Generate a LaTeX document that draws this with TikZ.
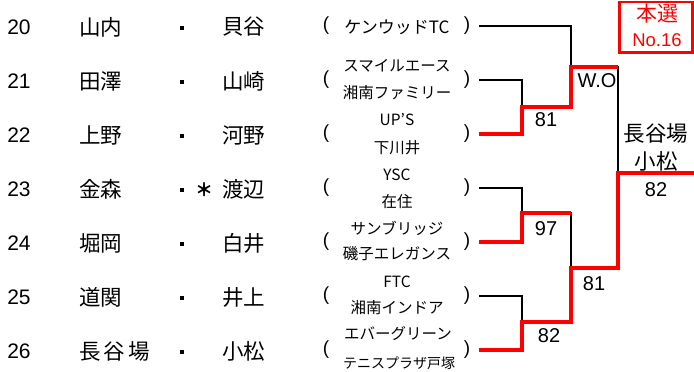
\documentclass[tikz,border=0pt]{standalone}
\usepackage{fontspec}
\setmainfont{Liberation Sans}
\newfontfamily\jp{Noto Sans CJK JP}
\definecolor{bred}{RGB}{255,0,0}
\begin{document}
\begin{tikzpicture}[x=1pt,y=-1pt,
  num/.style={font=\fontsize{21}{23}\selectfont, anchor=center, inner sep=0pt},
  nm/.style={font=\jp\fontsize{21.5}{23}\selectfont, anchor=west, inner sep=0pt},
  club/.style={font=\jp\fontsize{15.5}{17}\selectfont, anchor=center, inner sep=0pt},
  clubl/.style={font=\jp\fontsize{17}{19}\selectfont, anchor=center, inner sep=0pt},
  clubs/.style={font=\jp\fontsize{14}{16}\selectfont, anchor=center, inner sep=0pt},
  par/.style={font=\fontsize{19}{21}\selectfont, anchor=center, inner sep=0pt},
  blk/.style={line width=2.7pt, black},
  rd/.style={line width=4pt, bred},
  sc/.style={font=\fontsize{20}{22}\selectfont, anchor=center, inner sep=0pt}]
\useasboundingbox (0,0) rectangle (694,372);
% rows
\foreach \n/\y/\a/\b in {20/26/山内/貝谷,21/80/田澤/山崎,22/134/上野/河野,23/188/金森/渡辺,24/242/堀岡/白井,25/296/道関/井上,26/350/長\hspace{3pt}谷\hspace{3pt}場/小松}{
  \node[num] (n\n) at (19,\y+1) {\n};
  \node[nm] (a\n) at (79,\y+1) {\a};
  \node[fill=black, minimum size=3.5pt, inner sep=0pt] (d\n) at (182,\y+2) {};
  \node[nm] (b\n) at (222,\y+1) {\b};
  \node[par] (l\n) at (326,\y) {(};
  \node[par] (r\n) at (467,\y) {)};
  \coordinate (e\n) at (479,\y);
}
\node[font=\jp\bfseries\fontsize{18}{20}\selectfont, inner sep=0pt] (star) at (204,190) {＊};
% clubs
\node[clubl] (c20) at (397,27) {ケンウッドTC};
\node[club] (c21a) at (397,66) {スマイルエース};
\node[club] (c21b) at (397,93) {湘南ファミリー};
\node[club] (c22a) at (397,120) {UP’S};
\node[club] (c22b) at (397,148) {下川井};
\node[club] (c23a) at (397,175) {YSC};
\node[club] (c23b) at (397,202) {在住};
\node[club] (c24a) at (397,228) {サンブリッジ};
\node[club] (c24b) at (397,254) {磯子エレガンス};
\node[club] (c25a) at (397,282) {FTC};
\node[club] (c25b) at (397,308) {湘南インドア};
\node[club] (c26a) at (398,334) {エバーグリーン};
\node[clubs] (c26b) at (399,363) {テニスプラザ戸塚};
% bracket coordinates
\coordinate (j1) at (522,107);
\coordinate (j2) at (522,213);
\coordinate (j2e) at (571,213);
\coordinate (j3) at (522,322);
\coordinate (k1) at (571,67);
\coordinate (k1e) at (618,67);
\coordinate (k2) at (571,268);
\coordinate (f1) at (618,173);
\coordinate (fe) at (694,173);
% black lines
\draw[blk] (e20) -| (k1);
\draw[blk] (e21) -| (j1);
\draw[blk] (e23) -| (j2);
\draw[blk] (e25) -| (j3);
\draw[blk] (j2) -| (k2);
\draw[blk] (k1) -| (f1);
% red lines
\draw[rd] (e22) -| (j1) -| (k1) -- (k1e);
\draw[rd] (e24) -| (j2) -- (j2e);
\draw[rd] (e26) -| (j3) -| (k2) -| (f1) -- (fe);
% scores
\node[sc] (s1) at (546,120) {81};
\node[sc] (s2) at (597,81) {W.O};
\node[sc] (s3) at (546,229) {97};
\node[sc] (s4) at (594,284) {81};
\node[sc] (s5) at (549,336) {82};
\node[sc] (s6) at (656,190) {82};
\node[font=\jp\fontsize{21.5}{23}\selectfont, inner sep=0pt] (w1) at (656,133) {長谷場};
\node[font=\jp\fontsize{21.5}{23}\selectfont, inner sep=0pt] (w2) at (656,161) {小松};
% box
\draw[bred, line width=2.2pt] (619.5,2) rectangle (692.5,52.5);
\node[font=\jp\fontsize{21}{23}\selectfont, text=bred, inner sep=0pt] (bx1) at (657,14) {本選};
\node[font=\fontsize{18.5}{20}\selectfont, text=bred, inner sep=0pt] (bx2) at (657,40) {No.16};
\end{tikzpicture}
\end{document}
